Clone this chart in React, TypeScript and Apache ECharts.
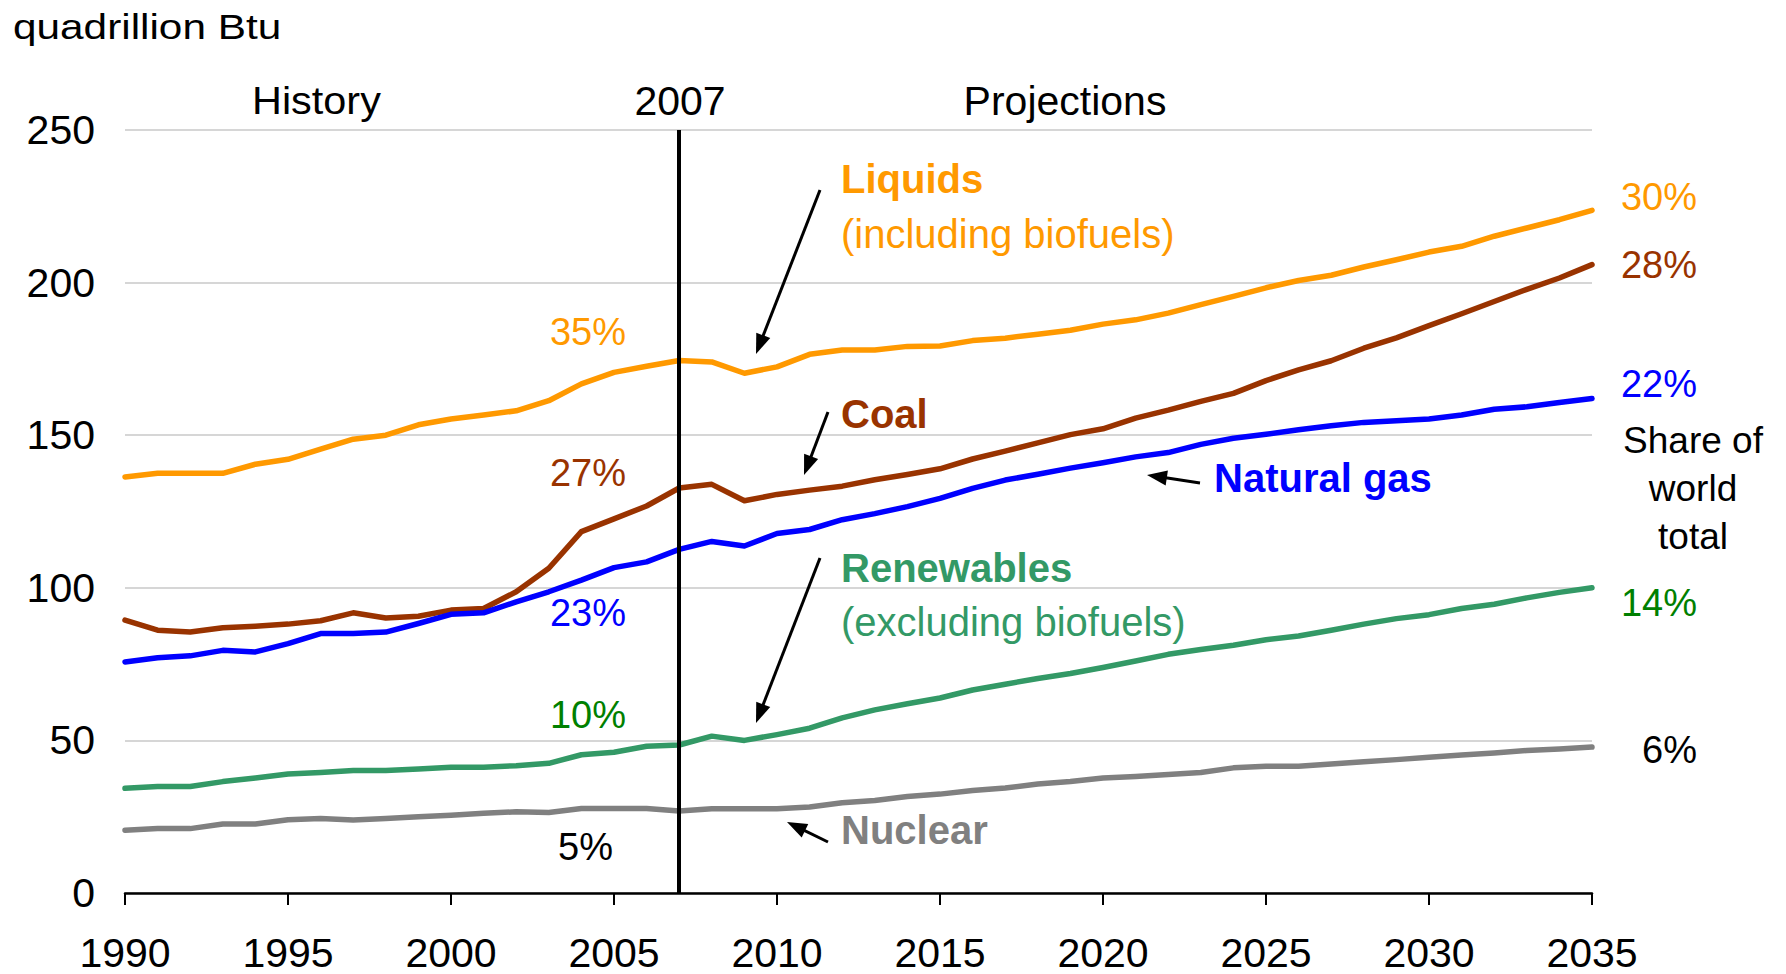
import React, { useEffect, useRef } from "react";
import * as echarts from "echarts";

const years = [
  1990, 1991, 1992, 1993, 1994, 1995, 1996, 1997, 1998, 1999,
  2000, 2001, 2002, 2003, 2004, 2005, 2006, 2007, 2008, 2009,
  2010, 2011, 2012, 2013, 2014, 2015, 2016, 2017, 2018, 2019,
  2020, 2021, 2022, 2023, 2024, 2025, 2026, 2027, 2028, 2029,
  2030, 2031, 2032, 2033, 2034, 2035,
];

const liquids = [
  136.3, 137.5, 137.5, 137.5, 140.5, 142.1, 145.4, 148.7, 150.0, 153.4,
  155.3, 156.6, 158.0, 161.3, 166.8, 170.6, 172.6, 174.5, 174.0, 170.3,
  172.4, 176.5, 177.9, 177.9, 179.1, 179.2, 181.0, 181.8, 183.1, 184.4,
  186.4, 187.8, 190.0, 192.8, 195.5, 198.3, 200.7, 202.4, 205.1, 207.5,
  210.0, 211.9, 215.2, 217.9, 220.6, 223.7,
];

const coal = [
  89.4, 86.1, 85.5, 86.9, 87.4, 88.1, 89.2, 91.8, 90.1, 90.7,
  92.7, 93.2, 98.7, 106.4, 118.4, 122.6, 126.8, 132.7, 133.9, 128.5,
  130.6, 132.0, 133.3, 135.4, 137.1, 139.0, 142.2, 144.8, 147.5, 150.2,
  152.1, 155.6, 158.2, 161.1, 163.7, 167.9, 171.4, 174.4, 178.5, 181.9,
  185.9, 189.8, 193.8, 197.8, 201.5, 205.9,
];

const naturalGas = [
  75.7, 77.1, 77.7, 79.5, 79.0, 81.7, 85.0, 85.0, 85.5, 88.3,
  91.3, 91.8, 95.4, 98.7, 102.5, 106.6, 108.5, 112.6, 115.2, 113.7,
  117.8, 119.1, 122.3, 124.3, 126.6, 129.3, 132.6, 135.3, 137.2, 139.2,
  141.0, 142.9, 144.3, 147.0, 149.0, 150.3, 151.8, 153.1, 154.2, 154.7,
  155.3, 156.6, 158.5, 159.3, 160.7, 162.0,
];

const renewables = [
  34.3, 34.9, 34.9, 36.5, 37.7, 39.0, 39.5, 40.1, 40.1, 40.6,
  41.2, 41.2, 41.7, 42.5, 45.3, 46.1, 48.1, 48.5, 51.4, 50.0,
  51.9, 54.0, 57.4, 60.0, 62.0, 63.9, 66.5, 68.4, 70.3, 71.9,
  73.9, 76.0, 78.2, 79.8, 81.2, 83.0, 84.2, 86.1, 88.1, 89.9,
  91.2, 93.2, 94.6, 96.7, 98.5, 100.0,
];

const nuclear = [
  20.6, 21.1, 21.1, 22.6, 22.6, 24.0, 24.4, 23.9, 24.4, 25.0,
  25.5, 26.1, 26.6, 26.4, 27.7, 27.7, 27.7, 26.9, 27.6, 27.6,
  27.6, 28.2, 29.6, 30.3, 31.6, 32.4, 33.6, 34.4, 35.7, 36.5,
  37.7, 38.2, 38.8, 39.5, 41.0, 41.5, 41.5, 42.3, 43.0, 43.7,
  44.5, 45.2, 45.9, 46.7, 47.2, 47.8,
];

const seriesNames = ["Liquids", "Coal", "Natural gas", "Renewables", "Nuclear"];
const seriesColors = ["#FF9900", "#993300", "#0000FF", "#339966", "#808080"];
const startShares = ["35%", "27%", "23%", "10%", "5%"];
const endShares = ["30%", "28%", "22%", "14%", "6%"];
const shareColors = ["#FF9900", "#993300", "#0000FF", "#008000", "#000000"];
const divisionYear = 2007;

const FONT = '"Liberation Sans", Arial, Helvetica, sans-serif';

function txt(
  text: string,
  x: number,
  y: number,
  size: number,
  fill: string,
  opts: { bold?: boolean; align?: string; scaleX?: number } = {}
) {
  return {
    type: "text",
    x,
    y,
    scaleX: opts.scaleX ?? 1,
    silent: true,
    z: 100,
    style: {
      text,
      fill,
      fontSize: size,
      fontFamily: FONT,
      fontWeight: opts.bold ? "bold" : "normal",
      textAlign: opts.align ?? "left",
      textVerticalAlign: "middle",
    },
  };
}

function arrow(x1: number, y1: number, x2: number, y2: number) {
  const dx = x2 - x1;
  const dy = y2 - y1;
  const len = Math.sqrt(dx * dx + dy * dy);
  const ux = dx / len;
  const uy = dy / len;
  const nx = -uy;
  const ny = ux;
  const L = 20;
  const W = 7.5;
  const bx = x2 - ux * L;
  const by = y2 - uy * L;
  return [
    {
      type: "line",
      silent: true,
      z: 100,
      shape: { x1, y1, x2: x2 - ux * L * 0.7, y2: y2 - uy * L * 0.7 },
      style: { stroke: "#000", lineWidth: 3 },
    },
    {
      type: "polygon",
      silent: true,
      z: 100,
      shape: {
        points: [
          [x2, y2],
          [bx + nx * W, by + ny * W],
          [bx - nx * W, by - ny * W],
        ],
      },
      style: { fill: "#000" },
    },
  ];
}

export default function App() {
  const ref = useRef<HTMLDivElement>(null);

  useEffect(() => {
    if (!ref.current) return;
    const chart = echarts.init(ref.current, null, { renderer: "svg" });
    const allData = [liquids, coal, naturalGas, renewables, nuclear];

    const series: any[] = allData.map((vals, i) => ({
      name: seriesNames[i],
      type: "line",
      data: years.map((y, k) => [y, vals[k]]),
      showSymbol: false,
      symbol: "none",
      smooth: false,
      lineStyle: { color: seriesColors[i], width: 5.5, cap: "round", join: "round" },
      itemStyle: { color: seriesColors[i] },
      z: 5,
    }));

    series.push({
      type: "line",
      data: [],
      z: 20,
      markLine: {
        silent: true,
        symbol: "none",
        label: { show: false },
        lineStyle: { color: "#000", width: 4, type: "solid" },
        data: [{ xAxis: divisionYear }],
        z: 20,
      },
    });

    const graphic: any[] = [
      txt("quadrillion Btu", 13, 27, 35, "#000", { scaleX: 1.21 }),
      txt("History", 252, 101, 38, "#000", { scaleX: 1.09 }),
      txt(String(divisionYear), 680, 101, 41, "#000", { align: "center" }),
      txt("Projections", 1065, 101, 41, "#000", { align: "center" }),

      txt(startShares[0], 626, 332, 38, shareColors[0], { align: "right" }),
      txt(startShares[1], 626, 473, 38, shareColors[1], { align: "right" }),
      txt(startShares[2], 626, 613, 38, shareColors[2], { align: "right" }),
      txt(startShares[3], 626, 715, 38, shareColors[3], { align: "right" }),
      txt(startShares[4], 613, 847, 38, shareColors[4], { align: "right" }),

      txt(endShares[0], 1697, 197, 38, shareColors[0], { align: "right" }),
      txt(endShares[1], 1697, 265, 38, shareColors[1], { align: "right" }),
      txt(endShares[2], 1697, 384, 38, shareColors[2], { align: "right" }),
      txt(endShares[3], 1697, 603, 38, shareColors[3], { align: "right" }),
      txt(endShares[4], 1697, 750, 38, shareColors[4], { align: "right" }),

      txt("Share of", 1693, 440, 37, "#000", { align: "center" }),
      txt("world", 1693, 488, 37, "#000", { align: "center" }),
      txt("total", 1693, 536, 37, "#000", { align: "center" }),

      txt("Liquids", 841, 179, 40, seriesColors[0], { bold: true }),
      txt("(including biofuels)", 841, 234, 40, seriesColors[0]),
      txt("Coal", 841, 414, 40, seriesColors[1], { bold: true }),
      txt("Natural gas", 1214, 478, 40, seriesColors[2], { bold: true }),
      txt("Renewables", 841, 568, 40, seriesColors[3], { bold: true }),
      txt("(excluding biofuels)", 841, 622, 40, seriesColors[3]),
      txt("Nuclear", 841, 830, 40, seriesColors[4], { bold: true }),

      ...arrow(820, 190, 756, 354),
      ...arrow(828, 412, 804, 475),
      ...arrow(1200, 483, 1147, 475),
      ...arrow(820, 558, 756, 723),
      ...arrow(828, 842, 787, 822),
    ];

    chart.setOption({
      animation: false,
      backgroundColor: "#ffffff",
      textStyle: { fontFamily: FONT },
      grid: { left: 125, right: 194, top: 130, bottom: 81, containLabel: false },
      xAxis: {
        type: "value",
        min: 1990,
        max: 2035,
        interval: 5,
        axisLine: { show: true, lineStyle: { color: "#000", width: 2.5 } },
        axisTick: { show: true, inside: false, length: 12, lineStyle: { color: "#000", width: 2 } },
        splitLine: { show: false },
        axisLabel: {
          fontSize: 41,
          color: "#000",
          margin: 39,
          fontFamily: FONT,
          formatter: (v: number) => String(v),
        },
      },
      yAxis: {
        type: "value",
        min: 0,
        max: 250,
        interval: 50,
        axisLine: { show: false },
        axisTick: { show: false },
        splitLine: { show: true, lineStyle: { color: "#c8c8c8", width: 1.5 } },
        axisLabel: { fontSize: 41, color: "#000", margin: 30, fontFamily: FONT },
      },
      series,
      graphic,
    });

    return () => {
      chart.dispose();
    };
  }, []);

  return (
    <div
      ref={ref}
      style={{ position: "absolute", left: 0, top: 0, width: 1786, height: 974, background: "#fff" }}
    />
  );
}
